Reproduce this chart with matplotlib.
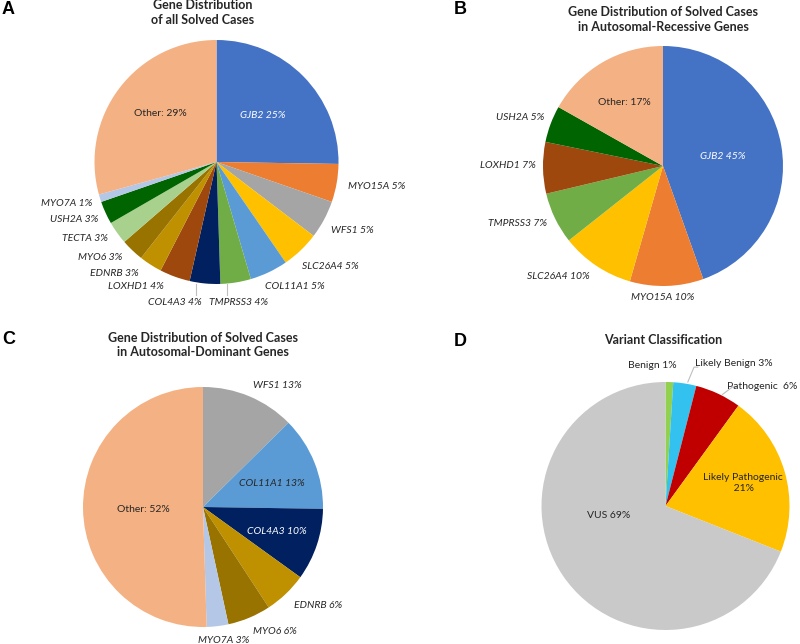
import numpy as np
import matplotlib
matplotlib.use("Agg")
import matplotlib.pyplot as plt

plt.rcParams['font.family'] = ['Lato', 'DejaVu Sans']

W, H = 800, 644
EXT = 1.8

# ---- data ----
a_genes = ["GJB2", "MYO15A", "WFS1", "SLC26A4", "COL11A1", "TMPRSS3", "COL4A3",
           "LOXHD1", "EDNRB", "MYO6", "TECTA", "USH2A", "MYO7A", "Other:"]
a_pct = [25, 5, 5, 5, 5, 4, 4, 4, 3, 3, 3, 3, 1, 29]

b_genes = ["GJB2", "MYO15A", "SLC26A4", "TMPRSS3", "LOXHD1", "USH2A", "Other:"]
b_pct = [45, 10, 10, 7, 7, 5, 17]

c_genes = ["WFS1", "COL11A1", "COL4A3", "EDNRB", "MYO6", "MYO7A", "Other:"]
c_pct = [13, 13, 10, 6, 6, 3, 52]

d_classes = ["Benign", "Likely Benign", "Pathogenic ", "Likely Pathogenic\n", "VUS"]
d_pct = [1, 3, 6, 21, 69]

gene_colors = {
    "GJB2": "#4472C4", "MYO15A": "#ED7D31", "WFS1": "#A5A5A5", "SLC26A4": "#FFC000",
    "COL11A1": "#5B9BD5", "TMPRSS3": "#70AD47", "COL4A3": "#002060", "LOXHD1": "#9E480E",
    "EDNRB": "#BF9000", "MYO6": "#997300", "TECTA": "#A9D18E", "USH2A": "#006400",
    "MYO7A": "#B4C7E7", "Other:": "#F4B183",
}
d_colors = ["#92D050", "#33C1F0", "#C00000", "#FFC000", "#C9C9C9"]

fig = plt.figure(figsize=(W / 100, H / 100), dpi=100)


def make_ax(cx, cy, r):
    ax = fig.add_axes([(cx - EXT * r) / W, 1 - (cy + EXT * r) / H,
                       2 * EXT * r / W, 2 * EXT * r / H])
    ax.axis("off")
    return ax


def draw_pie(ax, values, colors):
    wedges, _ = ax.pie(values, colors=colors, startangle=90, counterclock=False,
                       radius=1.0, wedgeprops=dict(linewidth=0))
    # pie() resets the limits, so set them afterwards
    ax.set_xlim(-EXT, EXT)
    ax.set_ylim(-EXT, EXT)
    return wedges


def label(ax, x, y, s, italic=True, color="#262626", size=7.5):
    ax.text(x, y, s, ha="center", va="center", fontsize=size, color=color,
            style="italic" if italic else "normal", clip_on=False)


def gene_label(name, pct):
    return f"{name} {pct}%"


# ---- Panel A ----
axA = make_ax(216.5, 162, 122)
draw_pie(axA, a_pct, [gene_colors[g] for g in a_genes])
a_pos = [(0.38, 0.385), (1.31, -0.20), (1.11, -0.56), (0.93, -0.86), (0.64, -1.02),
         (0.18, -1.15), (-0.34, -1.15), (-0.66, -1.02), (-0.84, -0.91), (-0.955, -0.785),
         (-1.08, -0.63), (-1.17, -0.475), (-1.23, -0.34), (-0.46, 0.40)]
for g, p, (x, y) in zip(a_genes, a_pct, a_pos):
    if g == "GJB2":
        label(axA, x, y, gene_label(g, p), color="white")
    elif g == "Other:":
        label(axA, x, y, f"{g} {p}%", italic=False)
    else:
        label(axA, x, y, gene_label(g, p))
# leader lines for COL4A3 and TMPRSS3
for xl in (-0.165, 0.09):
    axA.plot([xl, xl], [-1.0, -1.09], color="#BFBFBF", lw=0.8, clip_on=False)

# ---- Panel B ----
axB = make_ax(663, 166, 120)
draw_pie(axB, b_pct, [gene_colors[g] for g in b_genes])
b_pos = [(0.50, 0.075), (0.0, -1.10), (-0.87, -0.925), (-1.21, -0.48),
         (-1.29, 0.0), (-1.19, 0.40), (-0.325, 0.53)]
for g, p, (x, y) in zip(b_genes, b_pct, b_pos):
    if g == "GJB2":
        label(axB, x, y, gene_label(g, p), color="white")
    elif g == "Other:":
        label(axB, x, y, f"{g} {p}%", italic=False)
    else:
        label(axB, x, y, gene_label(g, p))

# ---- Panel C ----
axC = make_ax(203, 507, 120)
draw_pie(axC, c_pct, [gene_colors[g] for g in c_genes])
c_pos = [(0.62, 1.01), (0.575, 0.20), (0.615, -0.20), (0.96, -0.82),
         (0.60, -1.04), (0.17, -1.11), (-0.50, -0.02)]
for g, p, (x, y) in zip(c_genes, c_pct, c_pos):
    if g == "COL4A3":
        label(axC, x, y, gene_label(g, p), color="white")
    elif g == "Other:":
        label(axC, x, y, f"{g} {p}%", italic=False)
    else:
        label(axC, x, y, gene_label(g, p))

# ---- Panel D ----
axD = make_ax(665.5, 506, 124)
draw_pie(axD, d_pct, d_colors)
d_pos = [(-0.11, 1.13), (0.55, 1.15), (0.78, 0.96), (0.62, 0.185), (-0.46, -0.075)]
for c, p, (x, y) in zip(d_classes, d_pct, d_pos):
    label(axD, x, y, f"{c} {p}%", italic=False)
axD.plot([0.18, 0.23, 0.26], [1.0, 1.12, 1.12], color="#BFBFBF", lw=0.8, clip_on=False)
axD.plot([0.46, 0.54, 0.57], [0.90, 0.96, 0.96], color="#BFBFBF", lw=0.8, clip_on=False)

# ---- titles and panel letters ----
title_kw = dict(ha="center", va="center", fontsize=9, fontweight="bold", color="#262626")
fig.text(203 / W, 1 - 12.5 / H, "Gene Distribution\nof all Solved Cases", linespacing=1.25, **title_kw)
fig.text(663 / W, 1 - 19.5 / H, "Gene Distribution of Solved Cases\nin Autosomal-Recessive Genes",
         linespacing=1.25, **title_kw)
fig.text(203 / W, 1 - 345 / H, "Gene Distribution of Solved Cases\nin Autosomal-Dominant Genes",
         linespacing=1.25, **title_kw)
fig.text(663 / W, 1 - 340 / H, "Variant Classification", **title_kw)

letter_kw = dict(ha="left", va="center", fontsize=13, fontweight="bold",
                 family="Liberation Sans", color="black")
fig.text(2 / W, 1 - 9 / H, "A", **letter_kw)
fig.text(454 / W, 1 - 9 / H, "B", **letter_kw)
fig.text(2 / W, 1 - 340 / H, "C", **letter_kw)
fig.text(454 / W, 1 - 341 / H, "D", **letter_kw)

fig.savefig("out.png", dpi=100)
